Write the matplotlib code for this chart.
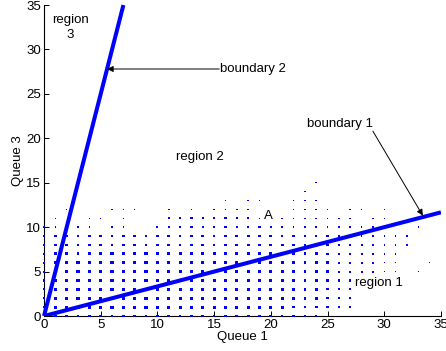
import numpy as np
import matplotlib.pyplot as plt

plt.rcParams['font.family'] = ['Liberation Sans', 'DejaVu Sans']

# occupancy grid: one string per Queue 3 value (top row = 15),
# one character per Queue 1 value 0..35 (grouped by 5 with '|');
# digit = dot size level, '.' = no dot
grid_rows = [
    ".....|.....|.....|.....|....1|.....|.....|.",  # 15
    ".....|.....|.....|.....|...1.|.....|.....|.",  # 14
    ".....|.....|.....|.1.11|..111|.....|.....|.",  # 13
    "..1..|.111.|.1.1.|1111.|..111|1.11.|1....|.",  # 12
    ".1..1|1.1..|.2222|22221|.1111|111.1|1....|.",  # 11
    "11.11|.11..|22222|22222|11111|11111|1..1.|.",  # 10
    "23333|33333|33333|33333|32222|22211|111..|.",  # 9
    "23333|33333|33333|33333|33322|22221|111..|.",  # 8
    "23334|44444|44444|44443|33333|22222|11...|.",  # 7
    "23344|44444|44444|44444|43333|32222|11..1|.",  # 6
    "23344|44444|44444|44444|43333|32222|11.1.|.",  # 5
    "24444|44444|44444|44444|44333|222..|.....|.",  # 4
    "24444|44444|44444|44444|44333|222..|.....|.",  # 3
    "24444|44444|44444|44444|44333|222..|.....|.",  # 2
    "24444|44444|44444|44444|44333|222..|.....|.",  # 1
    ".3333|33333|33333|33333|32222|.....|.....|.",  # 0
]
queue3_top = 15

# dot width in pixels for each size level
level_px = {"1": 1.5, "2": 2.1, "3": 2.7, "4": 3.2}

# decision boundaries (end points)
boundary1_x = [0, 35]
boundary1_y = [0, 35 / 3]
boundary2_x = [0, 7]
boundary2_y = [0, 35]

xs, ys, ss = [], [], []
for k, row in enumerate(grid_rows):
    j = queue3_top - k
    for i, ch in enumerate(row.replace("|", "")):
        if ch in level_px:
            xs.append(i)
            ys.append(j)
            ss.append((level_px[ch] * 0.72) ** 2)

fig = plt.figure(figsize=(4.46, 3.51), dpi=100)
ax = fig.add_axes([0.0987, 0.0997, 0.890, 0.886])

ax.scatter(xs, ys, s=ss, marker='s', color='blue', linewidths=0, zorder=3, clip_on=False)
ax.plot(boundary1_x, boundary1_y, color='blue', lw=2.9, zorder=4, solid_capstyle='butt')
ax.plot(boundary2_x, boundary2_y, color='blue', lw=2.9, zorder=4, solid_capstyle='butt', clip_on=False)

arrow = dict(arrowstyle='-|>', color='black', lw=0.7, mutation_scale=9, shrinkA=0, shrinkB=0)
ax.annotate("", xy=(5.56, 27.8), xytext=(15.45, 27.8), arrowprops=arrow, zorder=5)
ax.text(15.5, 27.8, "boundary 2", fontsize=9.5, ha='left', va='center')
ax.annotate("", xy=(33.4, 11.3), xytext=(29.0, 20.8), arrowprops=arrow, zorder=5)
ax.text(26.1, 21.6, "boundary 1", fontsize=9.5, ha='center', va='center')

ax.text(2.34, 32.45, "region\n3", fontsize=9.5, ha='center', va='center', multialignment='center',
        linespacing=1.3)
ax.text(13.7, 17.95, "region 2", fontsize=9.5, ha='center', va='center')
ax.text(19.77, 11.2, "A", fontsize=9.5, ha='center', va='center')
ax.text(29.5, 3.69, "region 1", fontsize=9.5, ha='center', va='center')

ax.set_xlim(0, 35)
ax.set_ylim(0, 35)
ax.set_xticks(np.arange(0, 36, 5))
ax.set_yticks(np.arange(0, 36, 5))
ax.tick_params(direction='in', length=3.5, width=0.7, labelsize=9.5, pad=2)
ax.spines['top'].set_visible(False)
ax.spines['right'].set_visible(False)
for side in ('left', 'bottom'):
    ax.spines[side].set_linewidth(0.8)
ax.set_xlabel("Queue 1", fontsize=9.5, labelpad=0)
ax.set_ylabel("Queue 3", fontsize=9.5, labelpad=2)

fig.savefig("out.png", dpi=100)
